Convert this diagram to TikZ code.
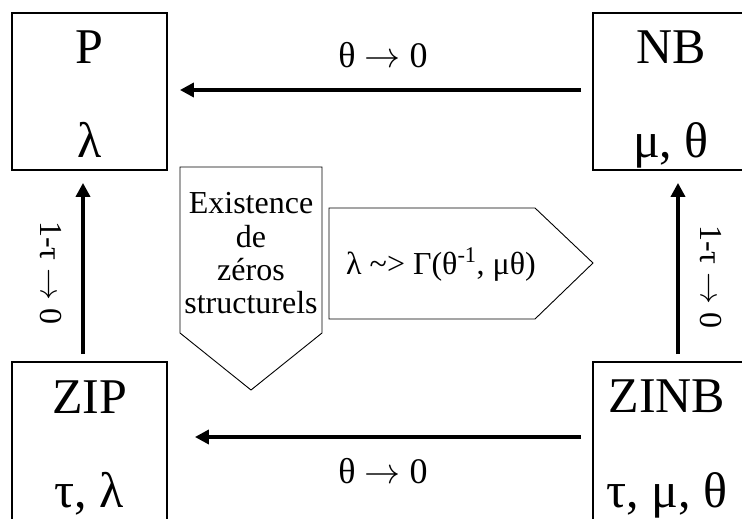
\RequirePackage{fix-cm}
\documentclass[tikz,border=0pt]{standalone}
\usepackage{fontspec}
\setmainfont{Liberation Serif}
\usetikzlibrary{arrows.meta}
\newcommand{\toarr}{\ensuremath{\rightarrow}}
\begin{document}
\begin{tikzpicture}[x=1pt,y=-1pt,
  box/.style={draw, line width=1.8pt, inner sep=0pt},
  big/.style={font=\fontsize{50}{60}\selectfont, inner sep=0pt, anchor=base},
  lbl/.style={font=\fontsize{36}{40}\selectfont, inner sep=0pt},
  rlbl/.style={font=\fontsize{32}{36}\selectfont, inner sep=0pt, rotate=-90},
  mid/.style={font=\fontsize{32}{34}\selectfont, inner sep=0pt, anchor=base},
  conn/.style={line width=3.5pt, -{Triangle[length=14pt,width=14pt]}},
  shapeline/.style={draw, line width=0.9pt, line join=miter}]
\useasboundingbox (0,0) rectangle (742,519);
\clip (0,0) rectangle (742,519);
% boxes
\node[box, minimum width=155pt, minimum height=157pt] (P) at (89.5,91.5) {};
\node[box, minimum width=150pt, minimum height=157pt] (NB) at (668,91.5) {};
\node[box, minimum width=155pt, minimum height=168pt] (ZIP) at (89.5,446) {};
\node[box, minimum width=150pt, minimum height=168pt] (ZINB) at (668,446) {};
% box texts
\node[big] (Pa) at (89.5,64) {P};
\node[big] (Pb) at (89.5,157) {λ};
\node[big] (NBa) at (671,64) {NB};
\node[big] (NBb) at (671,157) {μ, θ};
\node[big] (ZIPa) at (89.5,413) {ZIP};
\node[big] (ZIPb) at (89.5,507) {τ, λ};
\node[big] (ZINBa) at (667,412) {ZINB};
\node[big] (ZINBb) at (667,507) {τ, μ, θ};
% connectors
\draw[conn, shorten <=11pt, shorten >=12pt] ([yshift=1.5pt]NB.west) -- ([yshift=1.5pt]P.east);
\draw[conn, shorten <=11pt, shorten >=27pt] ([yshift=9pt]ZINB.west) -- ([yshift=9pt]ZIP.east);
\draw[conn, shorten <=7pt, shorten >=12pt] ([xshift=-6.5pt]ZIP.north) -- ([xshift=-6.5pt]P.south);
\draw[conn, shorten <=7pt, shorten >=12pt] ([xshift=10pt]ZINB.north) -- ([xshift=10pt]NB.south);
% connector labels
\node[lbl, anchor=base] (t1) at (383,68) {θ \toarr{} 0};
\node[lbl, anchor=base] (t2) at (383,483) {θ \toarr{} 0};
\node[rlbl] (t3) at (51,273) {1-τ \toarr{} 0};
\node[rlbl] (t4) at (711,277) {1-τ \toarr{} 0};
% down pentagon
\draw[shapeline] (180,167) -- (322,167) -- (322,333) -- (251,390) -- (180,333) -- cycle;
\node[mid] (e1) at (251,213) {Existence};
\node[mid] (e2) at (251,247) {de};
\node[mid] (e3) at (251,280) {zéros};
\node[mid] (e4) at (251,313) {structurels};
% right pentagon
\draw[shapeline] (329,208) -- (535,208) -- (593,263) -- (535,319) -- (329,319) -- cycle;
\node[mid] (g) at (441,274) {λ \textasciitilde> Γ(θ\textsuperscript{-1}, μθ)};
\end{tikzpicture}
\end{document}
